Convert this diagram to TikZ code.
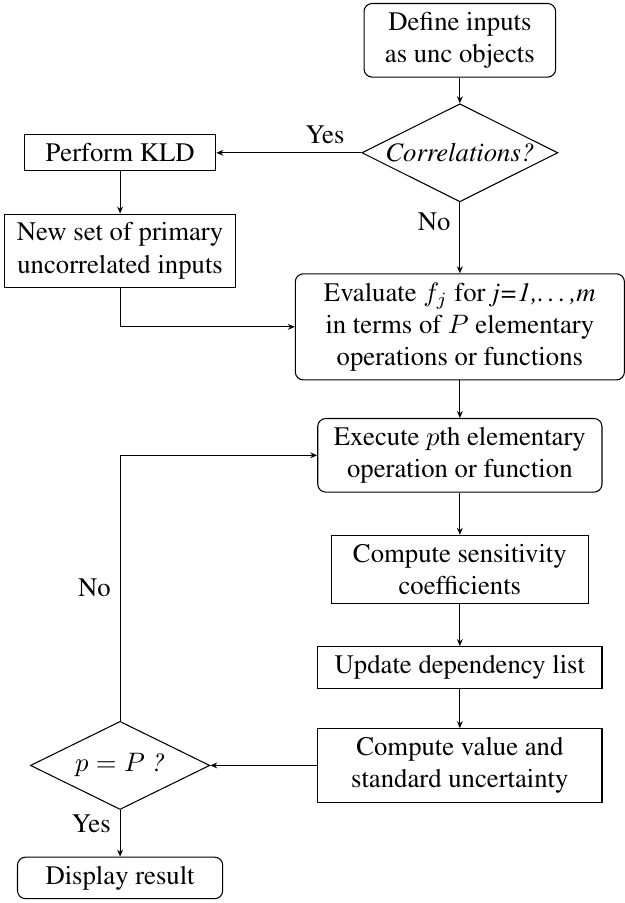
\documentclass[tikz,border=0pt]{standalone}
\usepackage[T1]{fontenc}
\usepackage{times}
\usetikzlibrary{shapes,arrows.meta,positioning,calc}

\begin{document}
\begin{tikzpicture}[
  proc/.style={rectangle, draw, align=center, inner sep=3.3pt},
  rproc/.style={proc, rounded corners=3pt},
  dec/.style={diamond, draw, aspect=2, align=center, inner sep=0pt},
  fl/.style={-{Stealth[length=2.6pt,width=2.2pt]}}
]
  \useasboundingbox (0,0) rectangle (8.21,-11.88);
  \node[rproc, minimum width=2.52cm] (define) at (6.05,-0.53) {Define inputs\\as unc objects};
  \node[dec, minimum width=2.58cm, minimum height=1.29cm] (corr) at (6.05,-2.01) {\textit{Correlations?}};
  \node[proc, minimum width=2.52cm] (kld) at (1.58,-2.01) {Perform KLD};
  \node[proc, minimum width=3.04cm] (newset) at (1.58,-3.30) {New set of primary\\uncorrelated inputs};
  \node[rproc, minimum width=4.33cm] (eval) at (6.05,-4.30) {Evaluate $f_j$ for \textit{j=1,\dots,m}\\in terms of $P$ elementary\\operations or functions};
  \node[rproc, minimum width=3.74cm] (exec) at (6.05,-5.99) {Execute $p$th elementary\\operation or function};
  \node[proc, minimum width=3.38cm] (sens) at (6.05,-7.49) {Compute sensitivity\\coefficients};
  \node[proc, minimum width=3.74cm] (update) at (6.05,-8.78) {Update dependency list};
  \node[proc, minimum width=3.74cm] (value) at (6.05,-10.07) {Compute value and\\standard uncertainty};
  \node[dec, minimum width=2.36cm, minimum height=1.16cm] (check) at (1.58,-10.07) {\textit{$p=P$ ?}};
  \node[rproc, minimum width=2.70cm] (display) at (1.58,-11.55) {Display result};
  \draw[fl] (define) -- (corr);
  \draw[fl] (corr) -- node[above, pos=0.25] {Yes} (kld);
  \draw[fl] (corr) -- node[left, pos=0.28] {No} (eval);
  \draw[fl] (kld) -- (newset);
  \draw[fl] (newset.south) |- (eval.west);
  \draw[fl] (eval) -- (exec);
  \draw[fl] (exec) -- (sens);
  \draw[fl] (sens) -- (update);
  \draw[fl] (update) -- (value);
  \draw[fl] (value) -- (check);
  \draw[fl] (check.north) |- node[left, pos=0.25] {No} (exec.west);
  \draw[fl] (check) -- node[left, pos=0.3] {Yes} (display);
\end{tikzpicture}
\end{document}
